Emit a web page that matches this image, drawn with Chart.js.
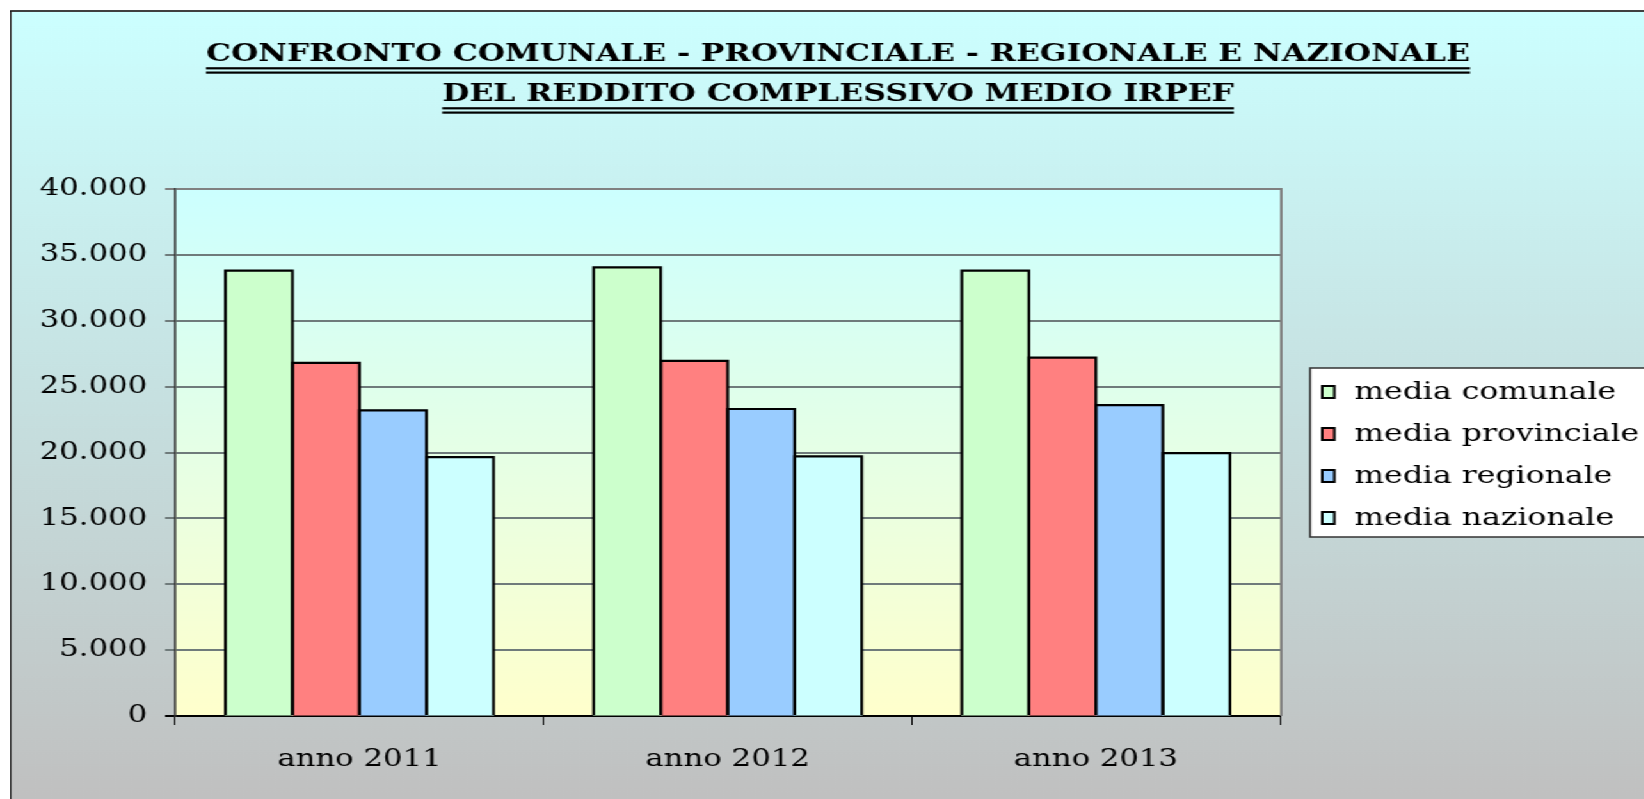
<!DOCTYPE html>
<html lang="it">
<head>
<meta charset="utf-8">
<title>Reddito complessivo medio IRPEF</title>
<script src="https://cdn.jsdelivr.net/npm/chart.js@4.4.1/dist/chart.umd.min.js"></script>
<style>
  html, body { margin: 0; padding: 0; background: #fff; overflow: hidden; }
  body { width: 1644px; height: 799px; position: relative; }
  /* laid out narrow, then stretched sideways like the original sheet */
  #wrap  { position: absolute; left: 0; top: 0; width: 1301px; height: 799px;
           transform: scaleX(1.28); transform-origin: 0 0; }
  #frame { position: absolute; left: 8px; top: 10px; width: 1293px; height: 789px;
           box-sizing: border-box; border-left: 1px solid #000; border-top: 2px solid #404040;
           background: linear-gradient(#ccffff, #c0c0c0); }
  #chart { position: absolute; left: 0; top: 0; }
</style>
</head>
<body>
<div id="wrap">
  <div id="frame"></div>
  <canvas id="chart" width="1301" height="799"></canvas>
</div>
<script>
// ── Data ──────────────────────────────────────────────────────────────────────
const ANNI = ['anno 2011', 'anno 2012', 'anno 2013'];

const MEDIA_COMUNALE    = [33800, 34050, 33800];
const MEDIA_PROVINCIALE = [26800, 26950, 27200];
const MEDIA_REGIONALE   = [23200, 23300, 23600];
const MEDIA_NAZIONALE   = [19650, 19700, 19950];

const SERIE_NOMI   = ['media comunale', 'media provinciale', 'media regionale', 'media nazionale'];
const SERIE_COLORI = ['#ccffcc', '#ff8080', '#99ccff', '#ccffff'];

const Y_MAX  = 40000;
const Y_STEP = 5000;

const TITOLO = [
    'CONFRONTO COMUNALE - PROVINCIALE - REGIONALE E NAZIONALE',
    'DEL REDDITO COMPLESSIVO MEDIO IRPEF'
];

// ── Style ─────────────────────────────────────────────────────────────────────
const SERIF     = '"DejaVu Serif", "Liberation Serif", serif';
const GRID_GRAY = '#6f7b7b';

// 40000 -> "40.000"
function migliaia(v) {
    return String(v).replace(/\B(?=(\d{3})+(?!\d))/g, '.');
}

// ── Plugins ───────────────────────────────────────────────────────────────────
const plotBackground = {
    id: 'plotBackground',
    beforeDraw(chart) {
        const { ctx, chartArea: a } = chart;
        const g = ctx.createLinearGradient(0, a.top, 0, a.bottom);
        g.addColorStop(0, '#ccffff');
        g.addColorStop(1, '#ffffcc');
        ctx.save();
        ctx.fillStyle = g;
        ctx.fillRect(a.left, a.top, a.right - a.left, a.bottom - a.top);
        ctx.restore();
    }
};

// black outline around every bar; neighbours share one stroked edge
const barOutline = {
    id: 'barOutline',
    afterDatasetsDraw(chart) {
        const { ctx } = chart;
        ctx.save();
        ctx.strokeStyle = '#000';
        ctx.lineWidth = 2.2;
        ctx.lineJoin = 'miter';
        chart.data.datasets.forEach((ds, i) => {
            chart.getDatasetMeta(i).data.forEach(bar => {
                const { x, y, base, width } = bar.getProps(['x', 'y', 'base', 'width'], true);
                const l = x - width / 2, r = x + width / 2;
                ctx.beginPath();
                ctx.moveTo(l, base);
                ctx.lineTo(l, y);
                ctx.lineTo(r, y);
                ctx.lineTo(r, base);
                ctx.stroke();
            });
        });
        ctx.restore();
    }
};

const titleBlock = {
    id: 'titleBlock',
    afterDraw(chart) {
        const { ctx } = chart;
        const cx = 654.7;
        const baselines = [60.7, 100.7];
        ctx.save();
        ctx.font = 'bold 24.5px ' + SERIF;
        ctx.fillStyle = '#000';
        ctx.textAlign = 'center';
        ctx.textBaseline = 'alphabetic';
        TITOLO.forEach((t, i) => {
            const y = baselines[i];
            const w = ctx.measureText(t).width;
            ctx.fillText(t, cx, y);
            ctx.fillRect(cx - w / 2, y + 6.5, w, 2.2);
            ctx.fillRect(cx - w / 2, y + 10.8, w, 2.2);
        });
        ctx.restore();
    }
};

const plotFrame = {
    id: 'plotFrame',
    afterDraw(chart) {
        const { ctx, chartArea: a } = chart;
        ctx.save();
        ctx.strokeStyle = '#808080';
        ctx.lineWidth = 2;
        ctx.beginPath();
        ctx.moveTo(a.right + 1, a.top - 1);
        ctx.lineTo(a.right + 1, a.bottom);
        ctx.stroke();
        ctx.restore();
    }
};

const boxLegend = {
    id: 'boxLegend',
    afterDraw(chart) {
        const { ctx } = chart;
        ctx.save();
        ctx.fillStyle = '#fff';
        ctx.fillRect(1023.5, 368, 275, 169);
        ctx.strokeStyle = '#333';
        ctx.lineWidth = 1.5;
        ctx.strokeRect(1023.5, 368, 275, 169);
        ctx.font = '24.6px ' + SERIF;
        ctx.textBaseline = 'middle';
        chart.data.datasets.forEach((ds, i) => {
            const y = 392 + i * 42;
            ctx.fillStyle = ds.backgroundColor;
            ctx.fillRect(1033, y - 6, 9.5, 12);
            ctx.strokeStyle = '#000';
            ctx.lineWidth = 2;
            ctx.strokeRect(1033, y - 6, 9.5, 12);
            ctx.fillStyle = '#000';
            ctx.fillText(ds.label, 1058, y + 1);
        });
        ctx.restore();
    }
};

// ── Chart ─────────────────────────────────────────────────────────────────────
const serie = [MEDIA_COMUNALE, MEDIA_PROVINCIALE, MEDIA_REGIONALE, MEDIA_NAZIONALE];

new Chart(document.getElementById('chart'), {
    type: 'bar',
    data: {
        labels: ANNI,
        datasets: serie.map((data, i) => ({
            label: SERIE_NOMI[i],
            data,
            backgroundColor: SERIE_COLORI[i],
            borderWidth: 0,
            inflateAmount: 0.5,
            categoryPercentage: 0.728,
            barPercentage: 1.0
        }))
    },
    options: {
        responsive: false,
        animation: false,
        devicePixelRatio: 1,
        layout: { padding: { left: 0, top: 189, right: 301, bottom: 23 } },
        plugins: {
            legend: { display: false },
            title: { display: false },
            tooltip: { enabled: false }
        },
        scales: {
            x: {
                grid: { offset: true, drawOnChartArea: false, drawTicks: true,
                        tickLength: 9, color: '#000', lineWidth: 1 },
                border: { color: '#000', width: 2 },
                ticks: { font: { family: SERIF, size: 24 }, color: '#000', padding: 20, maxRotation: 0 },
                afterFit: s => { s.height = 60; }
            },
            y: {
                min: 0,
                max: Y_MAX,
                ticks: {
                    stepSize: Y_STEP,
                    callback: v => migliaia(v),
                    font: { family: SERIF, size: 24 },
                    color: '#000',
                    padding: 14
                },
                grid: {
                    color: c => c.tick.value === 0 ? '#000'
                              : c.tick.value === Y_MAX ? '#808080' : GRID_GRAY,
                    lineWidth: 2,
                    tickLength: 8
                },
                border: { color: '#333', width: 1.6 },
                afterFit: s => { s.width = 137; }
            }
        }
    },
    plugins: [plotBackground, barOutline, plotFrame, titleBlock, boxLegend]
});
</script>
</body>
</html>
